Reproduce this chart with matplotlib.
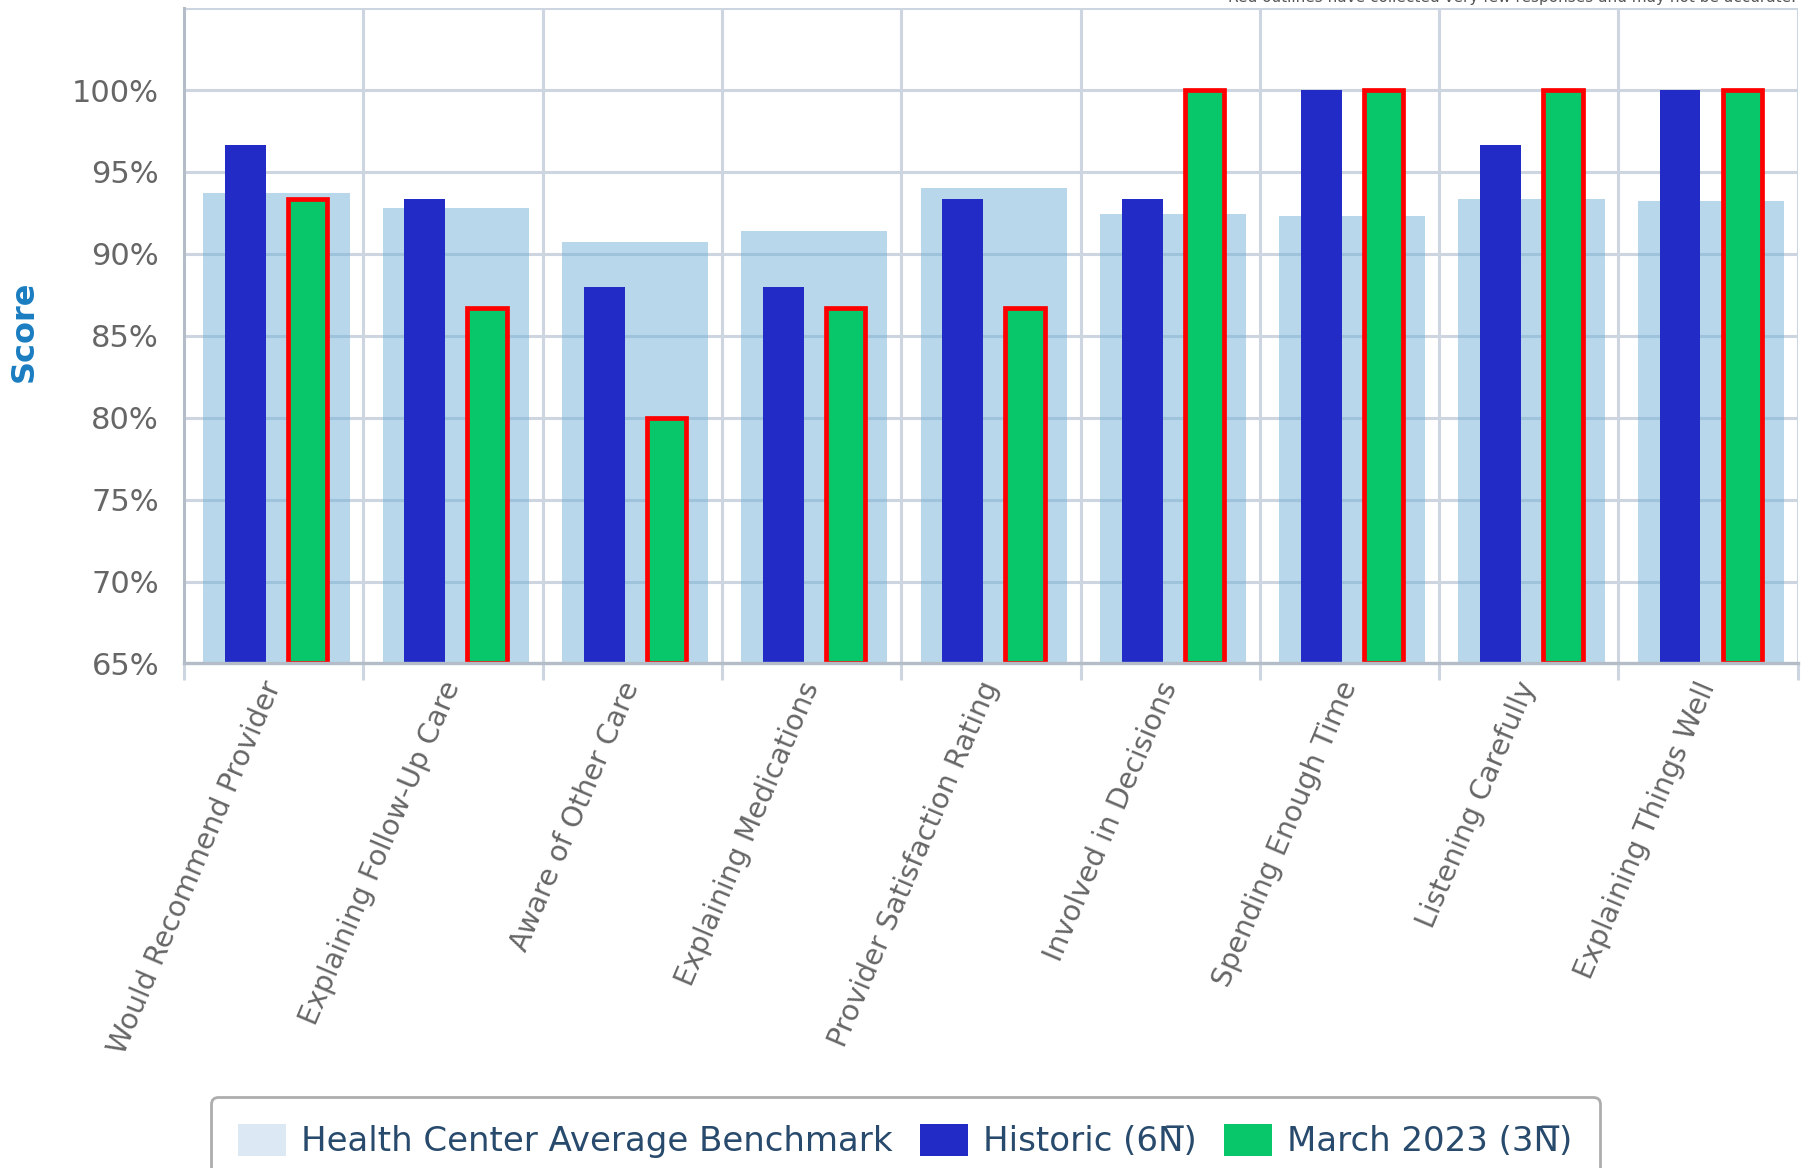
import numpy as np
import matplotlib
matplotlib.use("Agg")
import matplotlib.pyplot as plt
from matplotlib.patches import Patch
from matplotlib.ticker import NullFormatter

categories = ["Would Recommend Provider", "Explaining Follow-Up Care", "Aware of Other Care",
              "Explaining Medications", "Provider Satisfaction Rating", "Involved in Decisions",
              "Spending Enough Time", "Listening Carefully", "Explaining Things Well"]
benchmark = [93.7, 92.8, 90.7, 91.4, 94.0, 92.45, 92.3, 93.35, 93.2]
historic = [96.67, 93.33, 88.0, 88.0, 93.33, 93.33, 100.0, 96.67, 100.0]
march_2023 = [93.33, 86.67, 80.0, 86.67, 86.67, 100.0, 100.0, 100.0, 100.0]
y_ticks = [65, 70, 75, 80, 85, 90, 95, 100]

grid_c = "#cdd6e0"
axis_c = "#b3bcc7"

fig = plt.figure(figsize=(18.05, 11.68), dpi=100)
ax = fig.add_axes([0.102, 0.432, 0.894, 0.561])
x = np.arange(len(categories))

ax.bar(x + 0.015, [b - 65 for b in benchmark], bottom=65, width=0.815,
       color="#75b1d9", alpha=0.5, zorder=1)
ax.bar(x - 0.157, [h - 65 for h in historic], bottom=65, width=0.228,
       color="#232bc7", zorder=2)
ax.bar(x + 0.19, [m - 65 for m in march_2023], bottom=65, width=0.219,
       color="#08c66a", edgecolor="#ff0000", linewidth=3.4, zorder=3)

ax.set_xlim(-0.5, len(categories) - 0.5)
ax.set_ylim(65, 105)
ax.set_yticks(y_ticks)
ax.set_yticklabels([f"{t}%" for t in y_ticks])
for yv in y_ticks[1:] + [105]:
    ax.axhline(yv, color=grid_c, lw=2.2, zorder=0.5)
for xv in np.arange(0.5, len(categories)):
    ax.axvline(xv, color=grid_c, lw=2.2, zorder=0.5)

ax.set_xticks(np.arange(-0.5, len(categories)))
ax.xaxis.set_major_formatter(NullFormatter())
ax.set_xticks(x, minor=True)
ax.set_xticklabels(categories, minor=True, rotation=67, ha="right",
                   rotation_mode="anchor", va="center", fontsize=20.5, color="#666666")
ax.tick_params(axis="x", which="major", length=12, width=2.2, color=grid_c)
ax.tick_params(axis="x", which="minor", length=0, pad=14)
ax.tick_params(axis="y", which="both", length=0, labelsize=22, labelcolor="#666666", pad=18)

for s in ["top", "right"]:
    ax.spines[s].set_visible(False)
ax.spines["left"].set_color(axis_c)
ax.spines["left"].set_linewidth(2.2)
ax.spines["bottom"].set_color(axis_c)
ax.spines["bottom"].set_linewidth(2.4)
ax.spines["bottom"].set_zorder(4)

fig.text(0.0135, 0.716, "Score", rotation=90, ha="center", va="center",
         fontsize=23, fontweight="bold", color="#1a7dc0")

fig.text(0.995, 0.9985, "Red outlines have collected very few responses and may not be accurate.",
         ha="right", va="baseline", fontsize=11, color="#555555")

handles = [Patch(facecolor="#dce9f5", edgecolor="none"),
           Patch(facecolor="#232bc7", edgecolor="none"),
           Patch(facecolor="#08c66a", edgecolor="none")]
labels = ["Health Center Average Benchmark", "Historic (6N\u0305)", "March 2023 (3N\u0305)"]
leg = fig.legend(handles, labels, loc="upper left", bbox_to_anchor=(0.117, 0.061),
                 borderaxespad=0, ncol=3, fontsize=24.5, frameon=True, fancybox=True,
                 handlelength=1.4, handleheight=1.05, handletextpad=0.45,
                 columnspacing=0.8, borderpad=0.8, labelcolor="#284a6c")
leg.get_frame().set_edgecolor("#999999")
leg.get_frame().set_linewidth(2)

fig.savefig("out.png", dpi=100)
